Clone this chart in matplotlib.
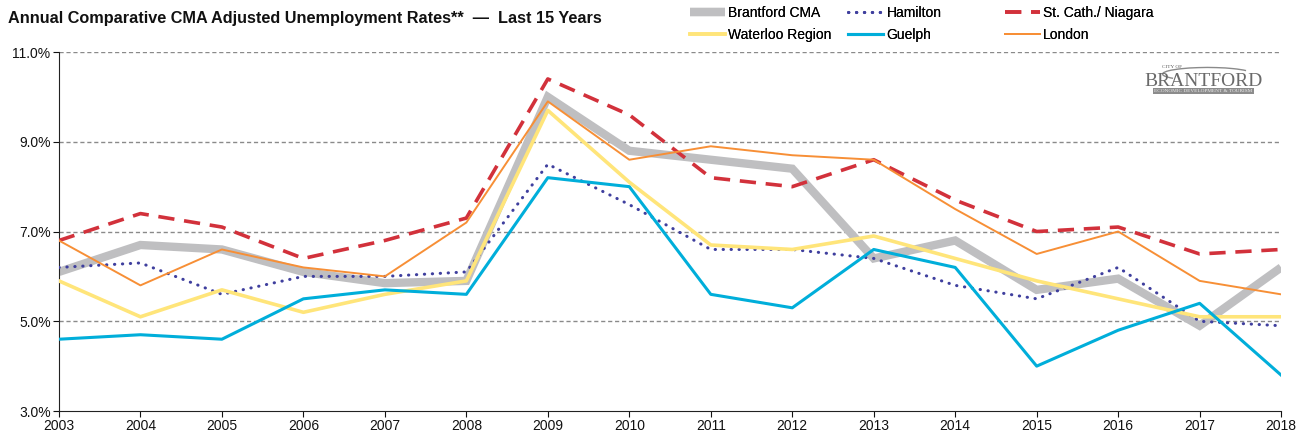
import matplotlib
matplotlib.use("Agg")
import matplotlib.pyplot as plt
from matplotlib.ticker import FuncFormatter, FixedLocator
from matplotlib.patches import Arc

plt.rcParams['font.family'] = ['Liberation Sans', 'DejaVu Sans']

years = list(range(2003, 2019))
brantford = [6.1, 6.7, 6.6, 6.1, 5.85, 5.9, 10.0, 8.8, 8.6, 8.4, 6.4, 6.8, 5.7, 5.95, 4.9, 6.2]
hamilton = [6.2, 6.3, 5.6, 6.0, 6.0, 6.1, 8.5, 7.6, 6.6, 6.6, 6.4, 5.8, 5.5, 6.2, 5.0, 4.9]
st_cath = [6.8, 7.4, 7.1, 6.4, 6.8, 7.3, 10.4, 9.6, 8.2, 8.0, 8.6, 7.7, 7.0, 7.1, 6.5, 6.6]
waterloo = [5.9, 5.1, 5.7, 5.2, 5.6, 5.9, 9.7, 8.1, 6.7, 6.6, 6.9, 6.4, 5.9, 5.5, 5.1, 5.1]
guelph = [4.6, 4.7, 4.6, 5.5, 5.7, 5.6, 8.2, 8.0, 5.6, 5.3, 6.6, 6.2, 4.0, 4.8, 5.4, 3.8]
london = [6.8, 5.8, 6.6, 6.2, 6.0, 7.2, 9.9, 8.6, 8.9, 8.7, 8.6, 7.5, 6.5, 7.0, 5.9, 5.6]
y_ticks = [3.0, 5.0, 7.0, 9.0, 11.0]

fig = plt.figure(figsize=(13.07, 4.41), dpi=100)
ax = fig.add_axes([0.0451, 0.068, 0.9351, 0.814])

l_b, = ax.plot(years, brantford, color='#BFBFC1', lw=6.0, solid_capstyle='butt', solid_joinstyle='miter', label='Brantford CMA', zorder=2)
l_h, = ax.plot(years, hamilton, color='#3F3F9E', lw=2.2, linestyle=(0, (0.1, 2.5)), dash_capstyle='round', label='Hamilton', zorder=3)
l_s, = ax.plot(years, st_cath, color='#D2313B', lw=2.6, linestyle=(0, (4.5, 2.7)), label='St. Cath./ Niagara', zorder=3)
l_w, = ax.plot(years, waterloo, color='#FFE57A', lw=2.6, label='Waterloo Region', zorder=3)
l_g, = ax.plot(years, guelph, color='#00AEDA', lw=2.2, label='Guelph', zorder=4)
l_l, = ax.plot(years, london, color='#F78F36', lw=1.4, label='London', zorder=5)

ax.set_xlim(2003, 2018)
ax.set_ylim(3.0, 11.0)
ax.set_xticks(years)
ax.yaxis.set_major_locator(FixedLocator(y_ticks))
ax.yaxis.set_major_formatter(FuncFormatter(lambda v, p: f"{v:.1f}%"))
for yv in y_ticks[1:]:
    ax.axhline(yv, color='#8A8A8A', lw=1.0, linestyle=(0, (3, 2)), zorder=1)

for s in ['top', 'right']:
    ax.spines[s].set_visible(False)
ax.spines['left'].set_color('#222222')
ax.spines['bottom'].set_color('#222222')
ax.tick_params(axis='both', labelsize=10, colors='#111111', length=4, width=0.8, direction='out')
ax.tick_params(axis='y', pad=2)
ax.tick_params(axis='x', pad=2)

fig.text(0.006, 0.958, 'Annual Comparative CMA Adjusted Unemployment Rates**  \u2014  Last 15 Years',
         fontsize=11.7, fontweight='bold', ha='left', va='center', color='#111111')

groups = [((l_b, l_w), 0.528), ((l_h, l_g), 0.649), ((l_s, l_l), 0.769)]
for hs, x0 in groups:
    lg = fig.legend(list(hs), [h.get_label() for h in hs], loc='upper left', bbox_to_anchor=(x0, 0.987),
                    frameon=False, fontsize=10, handlelength=2.5, handletextpad=0.25,
                    labelspacing=0.62, borderpad=0, borderaxespad=0)
    fig.add_artist(lg)

# logo
fig.add_artist(Arc((0.924, 0.832), 0.069, 0.03, theta1=15, theta2=200, transform=fig.transFigure,
                   color='#8A8A8A', lw=1.0))
fig.text(0.897, 0.849, 'CITY OF', fontsize=3.8, color='#555555', ha='center', va='center', family='Liberation Serif')
fig.text(0.9205, 0.815, 'BRANTFORD', fontsize=14, color='#6A6A6A', ha='center', va='center', family='Liberation Serif')
fig.text(0.9205, 0.794, 'ECONOMIC DEVELOPMENT & TOURISM', fontsize=3.8, color='#F0F0F0', ha='center', va='center',
         family='Liberation Serif', bbox=dict(boxstyle='square,pad=0.25', fc='#8C8C8C', ec='none'))

fig.savefig('out.png', dpi=100)
